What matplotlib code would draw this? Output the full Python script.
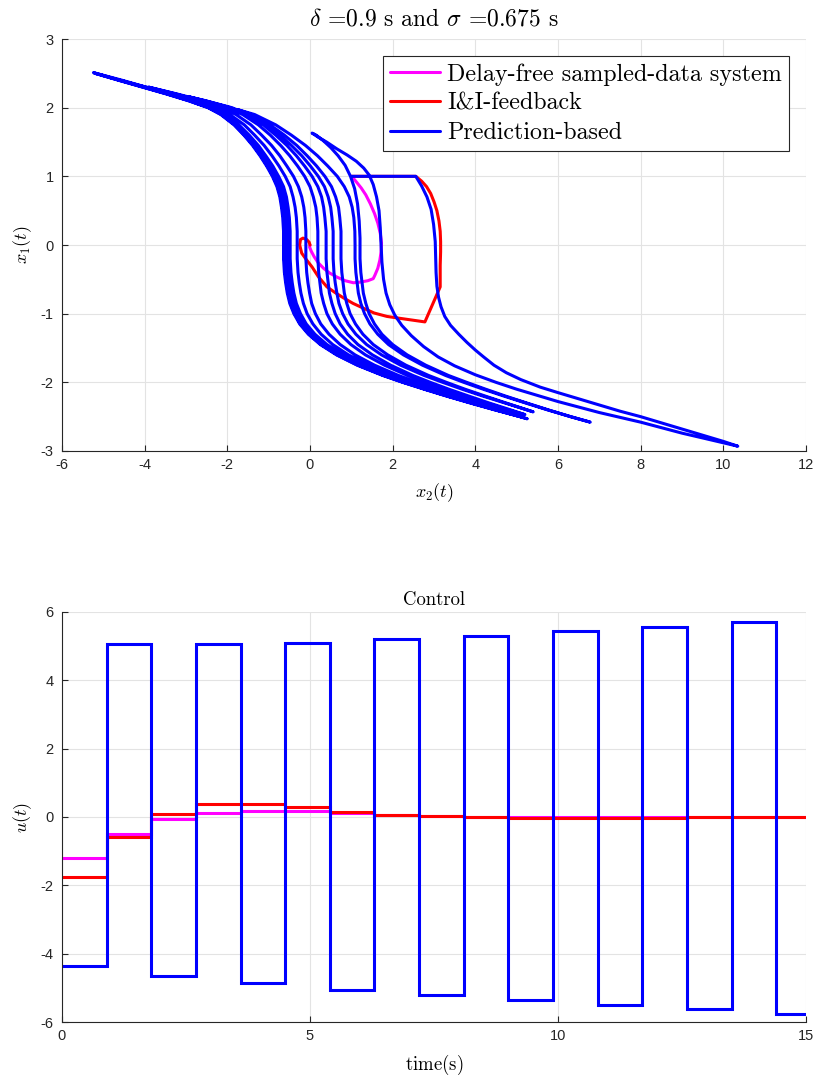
import matplotlib
matplotlib.use('Agg')
import matplotlib.pyplot as plt
import numpy as np

plt.rcParams['mathtext.fontset'] = 'cm'
plt.rcParams['axes.unicode_minus'] = False
plt.rcParams['font.family'] = ['Liberation Sans', 'DejaVu Sans']

# ---------------- data: phase portrait, points are (x2, x1) ----------------
# Prediction-based trajectory, one list per sampling interval
pred_s01 = [(1.01, 1.0), (2.56, 1.0), (2.7, 0.86), (2.83, 0.7), (2.93, 0.52), (2.99, 0.3), (3.03, 0.05),
            (3.04, -0.15), (3.05, -0.4), (3.07, -0.6), (3.11, -0.76), (3.17, -0.9), (3.26, -1.04), (3.4, -1.17),
            (3.6, -1.3), (3.8, -1.42), (4.0, -1.53), (4.2, -1.63), (4.45, -1.75), (4.75, -1.86), (5.1, -1.96),
            (5.57, -2.07), (6.0, -2.15), (6.5, -2.24), (7.0, -2.33), (7.5, -2.42), (8.0, -2.5), (8.5, -2.59),
            (9.0, -2.68), (9.5, -2.77), (10.0, -2.86), (10.35, -2.93)]
pred_s02 = [(10.0, -2.88), (9.5, -2.81), (9.0, -2.74), (8.5, -2.66), (8.0, -2.58), (7.5, -2.51), (7.0, -2.44),
            (6.5, -2.36), (6.0, -2.28), (5.5, -2.19), (5.0, -2.1), (4.5, -2.0), (4.0, -1.89), (3.5, -1.76),
            (3.1, -1.63), (2.75, -1.48), (2.45, -1.32), (2.22, -1.17), (2.05, -1.02), (1.93, -0.87), (1.84, -0.7),
            (1.78, -0.5), (1.74, -0.25), (1.72, 0.0), (1.7, 0.25), (1.67, 0.5), (1.61, 0.7), (1.53, 0.88),
            (1.43, 1.02), (1.3, 1.12), (1.12, 1.22), (0.9, 1.31), (0.65, 1.4), (0.4, 1.5), (0.2, 1.57), (0.05, 1.63)]
pred_s03 = [(0.15, 1.6), (0.32, 1.52), (0.5, 1.42), (0.68, 1.3), (0.85, 1.16), (0.98, 1.0), (1.08, 0.82),
            (1.15, 0.6), (1.19, 0.35), (1.21, 0.1), (1.21, -0.2), (1.23, -0.4), (1.26, -0.55), (1.29, -0.7),
            (1.35, -0.85), (1.43, -1.0), (1.56, -1.15), (1.74, -1.3), (2.0, -1.45), (2.35, -1.6), (2.8, -1.75),
            (3.35, -1.9), (3.79, -2.0), (4.25, -2.1), (4.73, -2.2), (5.24, -2.3), (5.76, -2.4), (6.3, -2.5),
            (6.78, -2.58)]
pred_s04 = [(6.31, -2.5), (5.74, -2.4), (5.21, -2.3), (4.69, -2.2), (4.19, -2.1), (3.72, -2.0), (3.28, -1.9),
            (2.72, -1.75), (2.26, -1.6), (1.9, -1.45), (1.64, -1.3), (1.45, -1.15), (1.32, -1.0), (1.23, -0.85),
            (1.17, -0.7), (1.14, -0.55), (1.11, -0.4), (1.09, -0.2), (1.09, 0.0), (1.085, 0.2), (1.06, 0.4),
            (1.02, 0.55), (0.95, 0.7), (0.83, 0.85), (0.66, 1.0), (0.43, 1.15), (0.18, 1.3), (-0.11, 1.45),
            (-0.45, 1.6), (-0.83, 1.75), (-1.34, 1.9), (-1.74, 1.97)]
pred_s05 = [(-1.42, 1.9), (-0.97, 1.75), (-0.62, 1.6), (-0.32, 1.45), (-0.07, 1.3), (0.16, 1.15), (0.36, 1.0),
            (0.52, 0.85), (0.62, 0.7), (0.69, 0.55), (0.72, 0.4), (0.75, 0.2), (0.75, 0.0), (0.75, -0.2),
            (0.77, -0.4), (0.8, -0.55), (0.83, -0.7), (0.89, -0.85), (0.97, -1.0), (1.1, -1.15), (1.28, -1.3),
            (1.53, -1.45), (1.88, -1.6), (2.32, -1.75), (2.87, -1.9), (3.3, -2.0), (3.75, -2.1), (4.24, -2.2),
            (4.74, -2.3), (5.25, -2.4), (5.4, -2.43)]
pred_s06 = [(5.24, -2.4), (4.7, -2.3), (4.18, -2.2), (3.68, -2.1), (3.21, -2.0), (2.76, -1.9), (2.19, -1.75),
            (1.73, -1.6), (1.37, -1.45), (1.11, -1.3), (0.92, -1.15), (0.79, -1.0), (0.7, -0.85), (0.65, -0.7),
            (0.61, -0.55), (0.58, -0.4), (0.56, -0.2), (0.56, 0.0), (0.56, 0.2), (0.53, 0.4), (0.5, 0.55),
            (0.44, 0.7), (0.35, 0.85), (0.2, 1.0), (0.01, 1.15), (-0.2, 1.3), (-0.45, 1.45), (-0.73, 1.6),
            (-1.05, 1.75), (-1.48, 1.9), (-1.89, 2.0), (-2.52, 2.1), (-2.94, 2.16)]
pred_s07 = [(-2.53, 2.1), (-1.93, 2.0), (-1.54, 1.9), (-1.13, 1.75), (-0.83, 1.6), (-0.56, 1.45), (-0.33, 1.3),
            (-0.13, 1.15), (0.05, 1.0), (0.19, 0.85), (0.28, 0.7), (0.33, 0.55), (0.36, 0.4), (0.39, 0.2),
            (0.39, 0.0), (0.39, -0.2), (0.41, -0.4), (0.44, -0.55), (0.47, -0.7), (0.53, -0.85), (0.61, -1.0),
            (0.73, -1.15), (0.91, -1.3), (1.16, -1.45), (1.51, -1.6), (1.95, -1.75), (2.49, -1.9), (2.91, -2.0),
            (3.36, -2.1), (3.84, -2.2), (4.33, -2.3), (4.85, -2.4), (5.2, -2.47)]
pred_s08 = [(4.79, -2.4), (4.26, -2.3), (3.75, -2.2), (3.26, -2.1), (2.79, -2.0), (2.36, -1.9), (1.8, -1.75),
            (1.34, -1.6), (0.99, -1.45), (0.73, -1.3), (0.54, -1.15), (0.41, -1.0), (0.33, -0.85), (0.27, -0.7),
            (0.24, -0.55), (0.21, -0.4), (0.19, -0.2), (0.19, 0.0), (0.19, 0.2), (0.17, 0.4), (0.14, 0.55),
            (0.08, 0.7), (0.0, 0.85), (-0.13, 1.0), (-0.3, 1.15), (-0.49, 1.3), (-0.71, 1.45), (-0.96, 1.6),
            (-1.25, 1.75), (-1.63, 1.9), (-2.01, 2.0), (-2.57, 2.1), (-3.22, 2.2), (-3.91, 2.3)]
pred_s09 = [(-3.25, 2.2), (-2.65, 2.1), (-2.13, 2.0), (-1.79, 1.9), (-1.43, 1.75), (-1.17, 1.6), (-0.93, 1.45),
            (-0.73, 1.3), (-0.56, 1.15), (-0.4, 1.0), (-0.28, 0.85), (-0.2, 0.7), (-0.15, 0.55), (-0.12, 0.4),
            (-0.1, 0.2), (-0.1, 0.0), (-0.1, -0.2), (-0.08, -0.4), (-0.05, -0.55), (-0.01, -0.7), (0.04, -0.85),
            (0.13, -1.0), (0.26, -1.15), (0.46, -1.3), (0.73, -1.45), (1.09, -1.6), (1.56, -1.75), (2.14, -1.9),
            (2.59, -2.0), (3.07, -2.1), (3.58, -2.2), (4.1, -2.3), (4.65, -2.4), (5.05, -2.47)]
pred_s10 = [(4.64, -2.4), (4.07, -2.3), (3.52, -2.2), (2.99, -2.1), (2.49, -2.0), (2.02, -1.9), (1.42, -1.75),
            (0.93, -1.6), (0.55, -1.45), (0.27, -1.3), (0.07, -1.15), (-0.07, -1.0), (-0.16, -0.85), (-0.22, -0.7),
            (-0.26, -0.55), (-0.29, -0.4), (-0.31, -0.2), (-0.31, 0.0), (-0.31, 0.2), (-0.33, 0.4), (-0.36, 0.55),
            (-0.41, 0.7), (-0.48, 0.85), (-0.6, 1.0), (-0.75, 1.15), (-0.92, 1.3), (-1.11, 1.45), (-1.34, 1.6),
            (-1.59, 1.75), (-1.94, 1.9), (-2.27, 2.0), (-2.77, 2.1), (-3.35, 2.2), (-3.97, 2.3), (-4.6, 2.4)]
pred_s11 = [(-4.0, 2.3), (-3.41, 2.2), (-2.85, 2.1), (-2.36, 2.0), (-2.05, 1.9), (-1.72, 1.75), (-1.47, 1.6),
            (-1.25, 1.45), (-1.07, 1.3), (-0.9, 1.15), (-0.76, 1.0), (-0.64, 0.85), (-0.57, 0.7), (-0.53, 0.55),
            (-0.5, 0.4), (-0.48, 0.2), (-0.48, 0.0), (-0.48, -0.2), (-0.46, -0.4), (-0.43, -0.55), (-0.39, -0.7),
            (-0.33, -0.85), (-0.23, -1.0), (-0.09, -1.15), (0.12, -1.3), (0.41, -1.45), (0.8, -1.6), (1.3, -1.75),
            (1.92, -1.9), (2.4, -2.0), (2.92, -2.1), (3.46, -2.2), (4.03, -2.3), (4.62, -2.4), (5.0, -2.46)]
pred_s12 = [(4.62, -2.4), (4.03, -2.3), (3.45, -2.2), (2.9, -2.1), (2.38, -2.0), (1.88, -1.9), (1.26, -1.75),
            (0.75, -1.6), (0.35, -1.45), (0.06, -1.3), (-0.15, -1.15), (-0.3, -1.0), (-0.39, -0.85), (-0.46, -0.7),
            (-0.5, -0.55), (-0.53, -0.4), (-0.55, -0.2), (-0.55, 0.0), (-0.55, 0.2), (-0.57, 0.4), (-0.6, 0.55),
            (-0.64, 0.7), (-0.71, 0.85), (-0.82, 1.0), (-0.96, 1.15), (-1.12, 1.3), (-1.3, 1.45), (-1.51, 1.6),
            (-1.75, 1.75), (-2.07, 1.9), (-2.38, 2.0), (-2.85, 2.1), (-3.39, 2.2), (-3.97, 2.3), (-4.55, 2.4),
            (-5.24, 2.51)]
pred_s13 = [(-4.6, 2.4), (-4.02, 2.3), (-3.44, 2.2), (-2.9, 2.1), (-2.43, 2.0), (-2.12, 1.9), (-1.8, 1.75),
            (-1.56, 1.6), (-1.35, 1.45), (-1.17, 1.3), (-1.01, 1.15), (-0.87, 1.0), (-0.76, 0.85), (-0.69, 0.7),
            (-0.65, 0.55), (-0.62, 0.4), (-0.6, 0.2), (-0.6, 0.0), (-0.6, -0.2), (-0.58, -0.4), (-0.55, -0.55),
            (-0.51, -0.7), (-0.45, -0.85), (-0.35, -1.0), (-0.21, -1.15), (0.0, -1.3), (0.29, -1.45), (0.68, -1.6),
            (1.18, -1.75), (1.8, -1.9), (2.28, -2.0), (2.8, -2.1), (3.34, -2.2), (3.91, -2.3), (4.5, -2.4), (5.1, -2.5)]
pred_s14 = [(4.48, -2.4), (3.89, -2.3), (3.32, -2.2), (2.78, -2.1), (2.26, -2.0), (1.78, -1.9), (1.16, -1.75),
            (0.66, -1.6), (0.27, -1.45), (-0.02, -1.3), (-0.23, -1.15), (-0.37, -1.0), (-0.47, -0.85), (-0.53, -0.7),
            (-0.57, -0.55), (-0.6, -0.4), (-0.62, -0.2), (-0.62, 0.0), (-0.62, 0.2), (-0.64, 0.4), (-0.67, 0.55),
            (-0.71, 0.7), (-0.78, 0.85), (-0.89, 1.0), (-1.03, 1.15), (-1.19, 1.3), (-1.37, 1.45), (-1.58, 1.6),
            (-1.82, 1.75), (-2.14, 1.9), (-2.45, 2.0), (-2.92, 2.1), (-3.46, 2.2), (-4.04, 2.3), (-4.62, 2.4),
            (-5.2, 2.5)]
pred_s15 = [(-4.64, 2.4), (-4.06, 2.3), (-3.48, 2.2), (-2.94, 2.1), (-2.47, 2.0), (-2.16, 1.9), (-1.84, 1.75),
            (-1.6, 1.6), (-1.39, 1.45), (-1.21, 1.3), (-1.05, 1.15), (-0.91, 1.0), (-0.8, 0.85), (-0.73, 0.7),
            (-0.69, 0.55), (-0.66, 0.4), (-0.64, 0.2), (-0.64, 0.0), (-0.64, -0.2), (-0.62, -0.4), (-0.59, -0.55),
            (-0.55, -0.7), (-0.49, -0.85), (-0.39, -1.0), (-0.25, -1.15), (-0.04, -1.3), (0.25, -1.45), (0.64, -1.6),
            (1.14, -1.75), (1.76, -1.9), (2.24, -2.0), (2.76, -2.1), (3.3, -2.2), (3.87, -2.3), (4.46, -2.4),
            (5.08, -2.5), (5.25, -2.53)]
pred_s16 = [(5.08, -2.5), (4.5, -2.4), (3.91, -2.3), (3.34, -2.2), (2.8, -2.1), (2.28, -2.0), (1.8, -1.9),
            (1.18, -1.75), (0.68, -1.6), (0.29, -1.45), (0.0, -1.3), (-0.21, -1.15), (-0.35, -1.0), (-0.45, -0.85),
            (-0.51, -0.7), (-0.55, -0.55), (-0.58, -0.4), (-0.6, -0.2), (-0.6, 0.0), (-0.6, 0.2), (-0.62, 0.4),
            (-0.65, 0.55), (-0.69, 0.7), (-0.76, 0.85), (-0.87, 1.0), (-1.01, 1.15), (-1.17, 1.3), (-1.35, 1.45),
            (-1.56, 1.6), (-1.8, 1.75), (-2.12, 1.9), (-2.43, 2.0), (-2.9, 2.1)]

# Delay-free sampled-data system
free_x2 = [1.01, 1.12, 1.24, 1.35, 1.46, 1.56, 1.64, 1.7, 1.73, 1.72, 1.69, 1.64, 1.57, 1.53, 1.4, 1.22, 1.05,
           0.85, 0.66, 0.48, 0.33, 0.2, 0.1, 0.03, -0.01, 0.0]
free_x1 = [1.0, 0.92, 0.83, 0.73, 0.6, 0.46, 0.32, 0.17, 0.03, -0.1, -0.22, -0.34, -0.44, -0.49, -0.52, -0.54,
           -0.55, -0.52, -0.47, -0.41, -0.34, -0.26, -0.17, -0.09, -0.03, 0.0]

# I&I-feedback
ii_x2 = [1.01, 2.56, 2.7, 2.82, 2.92, 3.0, 3.07, 3.12, 3.15, 3.16, 3.16, 3.15, 3.15, 2.78, 2.2, 1.86, 1.55, 1.29,
         1.04, 0.81, 0.6, 0.41, 0.2, 0.05, -0.08, -0.2, -0.25, -0.23, -0.17, -0.08, -0.02, 0.0]
ii_x1 = [1.0, 1.0, 0.93, 0.85, 0.75, 0.63, 0.5, 0.35, 0.2, 0.05, -0.1, -0.3, -0.61, -1.12, -1.07, -1.04, -0.99,
         -0.92, -0.85, -0.77, -0.69, -0.61, -0.46, -0.32, -0.22, -0.12, 0.0, 0.08, 0.1, 0.08, 0.04, 0.0]

# ---------------- data: control ----------------
t_edges = [0, 0.9, 1.8, 2.7, 3.6, 4.5, 5.4, 6.3, 7.2, 8.1, 9.0, 9.9, 10.8, 11.7, 12.6, 13.5, 14.4, 15.0]
u_pred = [-4.35, 5.05, -4.65, 5.05, -4.87, 5.1, -5.05, 5.2, -5.2, 5.3, -5.35, 5.45, -5.5, 5.55, -5.62, 5.7, -5.78]
u_ii = [-1.77, -0.58, 0.09, 0.37, 0.39, 0.29, 0.16, 0.07, 0.02, -0.01, -0.03, -0.03, -0.02, -0.02, -0.01, -0.01, -0.01]
u_free = [-1.19, -0.49, -0.06, 0.13, 0.19, 0.17, 0.12, 0.07, 0.03, 0.0, -0.01, -0.01, -0.01, 0.0, 0.0, 0.0, 0.0]

labels = ['Delay-free sampled-data system', 'I&I-feedback', 'Prediction-based']
c_free, c_ii, c_pred = '#ff00ff', '#ff0000', '#0000ff'

# ---------------- figure ----------------
fig = plt.figure(figsize=(8.18, 10.75), dpi=100)
ax1 = fig.add_axes([62 / 818, 1 - 451 / 1075, 744 / 818, 412 / 1075])
ax2 = fig.add_axes([62 / 818, 1 - 1022 / 1075, 744 / 818, 410 / 1075])


def style(ax):
    for s in ['top', 'right']:
        ax.spines[s].set_visible(False)
    for s in ['left', 'bottom']:
        ax.spines[s].set_color('#262626')
        ax.spines[s].set_linewidth(0.8)
    ax.tick_params(direction='in', length=4, width=0.8, color='#262626', labelsize=10.5,
                   labelcolor='#262626', top=False, right=False)
    ax.tick_params(axis='y', pad=6)
    ax.tick_params(axis='x', pad=5)
    ax.grid(True, color='#e3e3e3', lw=0.8)
    ax.set_axisbelow(True)


lw = 2.2
kw = dict(lw=lw, solid_joinstyle='round', solid_capstyle='round')

# top: phase portrait
ax1.plot(free_x2, free_x1, color=c_free, label=labels[0], **kw)
ax1.plot(ii_x2, ii_x1, color=c_ii, label=labels[1], **kw)
strokes = [pred_s01, pred_s02, pred_s03, pred_s04, pred_s05, pred_s06, pred_s07, pred_s08,
           pred_s09, pred_s10, pred_s11, pred_s12, pred_s13, pred_s14, pred_s15, pred_s16]
pred_path = np.array([p for s in strokes for p in s])
ax1.plot(pred_path[:, 0], pred_path[:, 1], color=c_pred, label=labels[2], **kw)

ax1.set_xlim(-6, 12)
ax1.set_ylim(-3, 3)
ax1.set_xticks(np.arange(-6, 13, 2))
ax1.set_yticks(np.arange(-3, 4, 1))
style(ax1)
ax1.set_xlabel(r'$x_2(t)$', fontsize=13, labelpad=7)
ax1.set_ylabel(r'$x_1(t)$', fontsize=13, labelpad=5)
ax1.set_title(r'$\delta$ =0.9 s and $\sigma$ =0.675 s', fontsize=17, family='cmr10', pad=10)
leg = ax1.legend(loc='upper right', prop={'family': 'cmr10', 'size': 17.3}, frameon=True, fancybox=False,
                 edgecolor='#262626', framealpha=1, handlelength=2.1, handletextpad=0.28,
                 labelspacing=0.3, borderpad=0.3, borderaxespad=0.7)
leg.get_frame().set_linewidth(0.8)

# bottom: control
ax2.stairs(u_free, t_edges, baseline=None, color=c_free, lw=lw)
ax2.stairs(u_ii, t_edges, baseline=None, color=c_ii, lw=lw)
ax2.stairs(u_pred, t_edges, baseline=None, color=c_pred, lw=lw)
ax2.set_xlim(0, 15)
ax2.set_ylim(-6, 6)
ax2.set_xticks([0, 5, 10, 15])
ax2.set_yticks(np.arange(-6, 7, 2))
style(ax2)
ax2.set_xlabel(r'$\mathrm{time(s)}$', fontsize=13.5, labelpad=7)
ax2.set_ylabel(r'$u(t)$', fontsize=13, labelpad=5)
ax2.set_title('Control', fontsize=13.5, family='cmr10', pad=5)

fig.savefig('out.png', dpi=100)
